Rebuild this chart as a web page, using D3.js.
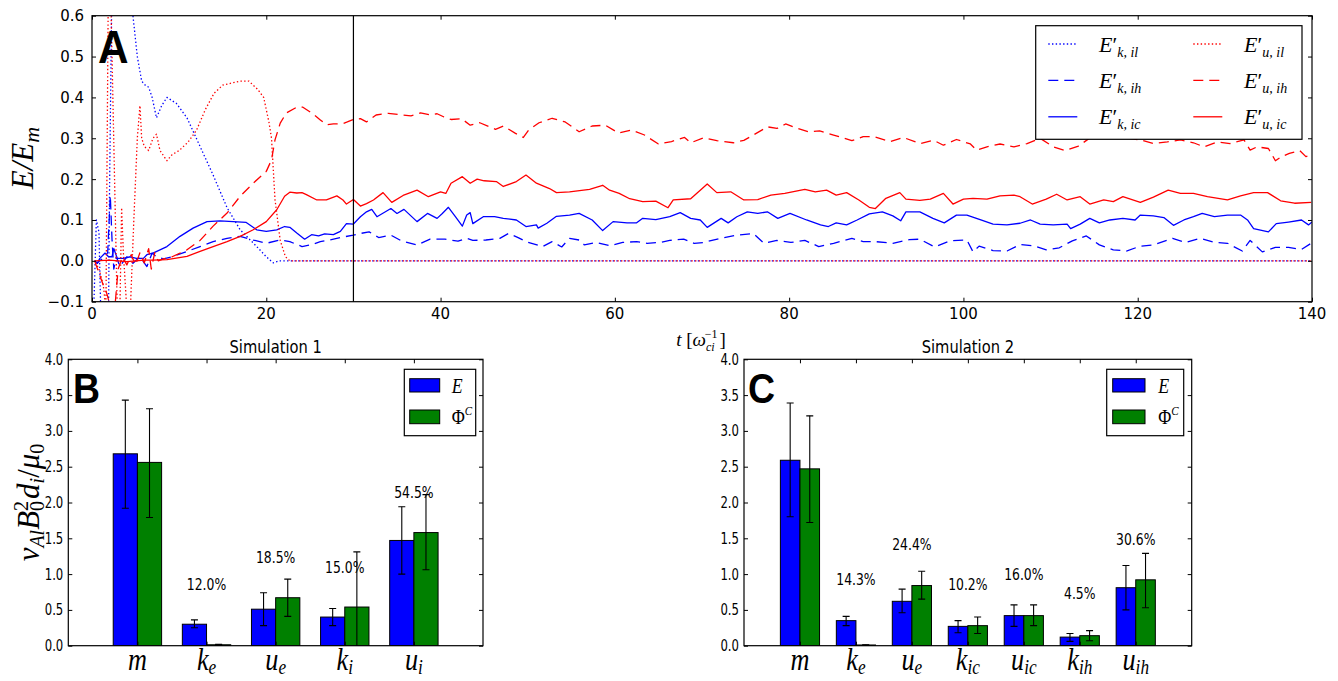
<!DOCTYPE html>
<html><head><meta charset="utf-8">
<script src="https://cdn.jsdelivr.net/npm/d3@7"></script>
<style>body{margin:0;background:#fff}svg{display:block}</style>
</head><body>
<svg id="c" width="1338" height="681"></svg>
<script>
// ---------------- DATA ----------------
// Panel A : time series [t, E/E_m]
const kIl = [[0.2,-0.12],[0.5,0.1],[0.8,0.07],[1.0,-0.12],[1.9,-0.12],[2.0,0.15],[2.3,0.7],[4.0,0.9],[4.7,0.6],[5.2,0.5],[5.7,0.44],[6.1,0.43],[6.5,0.425],[6.9,0.40],[7.4,0.35],[8.0,0.38],[8.6,0.40],[9.7,0.385],[10.9,0.35],[12.4,0.28],[13.9,0.21],[15.5,0.13],[17,0.076],[18.9,0.035],[20,0.01],[20.8,-0.005],[21.5,0],[140,0]];
const kIh = [[0.3,0.0],[0.6,-0.006],[0.9,0.0],[1.5,0.01],[1.8,0.02],[2.1,0.16],[2.3,0.05],[2.5,-0.02],[2.8,0.01],[3.2,-0.014],[4.0,0.01],[4.7,-0.006],[5.5,0.01],[6.3,-0.014],[6.9,0.019],[7.4,0.01],[8.2,0.005],[9.2,0.01],[10.9,0.023],[12.4,0.035],[13.9,0.047],[15.5,0.055],[17,0.06],[18.5,0.051],[20,0.043],[21.6,0.051],[22.7,0.047],[24.1,0.035],[25.1,0.039],[26.2,0.047],[27.3,0.051],[28.5,0.057],[30,0.063],[30.8,0.067],[31.8,0.071],[32.9,0.057],[34.3,0.063],[35.5,0.049],[37.3,0.039],[38.8,0.053],[40.5,0.053],[42,0.048],[43,0.055],[43.7,0.05],[45.2,0.051],[46.8,0.055],[47.8,0.067],[48.9,0.057],[49.8,0.047],[51.7,0.035],[52.8,0.047],[53.9,0.034],[54.8,0.055],[55.9,0.051],[56.5,0.039],[57.8,0.045],[59.4,0.037],[60.9,0.045],[62.5,0.047],[63.7,0.043],[65.2,0.045],[66.3,0.05],[67.9,0.053],[69.1,0.043],[70.2,0.045],[72.1,0.055],[74,0.063],[75.9,0.067],[77.1,0.043],[78.6,0.05],[80.2,0.045],[81.8,0.05],[83.4,0.035],[84.5,0.04],[85.1,0.043],[87.2,0.055],[88.5,0.047],[89.9,0.047],[91.9,0.043],[93.8,0.052],[95,0.053],[96.7,0.034],[98.5,0.049],[100.4,0.051],[101.1,0.022],[101.8,0.036],[103.4,0.025],[105,0.024],[106.5,0.04],[108,0.037],[109.5,0.027],[111,0.032],[112.5,0.049],[114.1,0.061],[115.6,0.039],[117.2,0.027],[118.7,0.024],[120.3,0.036],[121.8,0.039],[124,0.055],[125.5,0.045],[127.2,0.055],[128.8,0.045],[130.3,0.043],[132,0.024],[132.9,0.05],[134.3,0.022],[135.8,0.033],[137.3,0.033],[138.8,0.028],[139.9,0.043]];
const kIc = [[0.3,0.0],[0.6,-0.006],[0.9,0.006],[1.5,0.019],[1.9,0.01],[2.3,0.01],[2.5,0.03],[2.9,0.006],[3.6,0.006],[4.4,0.01],[5.1,0.006],[5.9,0.006],[6.3,0.015],[7,0.019],[8.6,0.035],[10.1,0.06],[11.6,0.08],[13.2,0.096],[14.7,0.098],[16.2,0.096],[17.7,0.094],[18.9,0.076],[20,0.072],[21.2,0.076],[22.1,0.084],[22.7,0.082],[23.5,0.068],[24.4,0.053],[25.2,0.064],[26,0.061],[26.7,0.066],[27.7,0.064],[28.5,0.072],[29.2,0.091],[30,0.09],[30.8,0.108],[31.5,0.12],[32.1,0.126],[32.7,0.108],[34.3,0.128],[35,0.116],[35.8,0.126],[37.3,0.096],[38.5,0.116],[39.6,0.104],[40.2,0.116],[40.9,0.131],[41.7,0.108],[42.5,0.085],[43,0.112],[43.4,0.118],[43.7,0.091],[44.9,0.108],[46.2,0.108],[47.2,0.104],[48.7,0.1],[49.8,0.084],[51,0.088],[51.2,0.08],[52.2,0.092],[53.3,0.109],[54.8,0.112],[55.9,0.116],[57.4,0.1],[58.6,0.074],[59.8,0.096],[61.4,0.093],[62.5,0.093],[63.2,0.104],[64.7,0.101],[66.3,0.108],[67.5,0.118],[68.7,0.104],[69.8,0.1],[70.6,0.082],[72.2,0.104],[73,0.093],[74,0.108],[75.2,0.12],[76.4,0.116],[77.5,0.12],[78.7,0.104],[80.1,0.116],[82,0.1],[83.6,0.088],[84.5,0.084],[85.4,0.093],[86.6,0.088],[87.8,0.1],[89.2,0.115],[90.7,0.12],[91.9,0.11],[92.8,0.098],[93.4,0.12],[95,0.12],[96.5,0.104],[97.8,0.093],[99.2,0.112],[100.4,0.112],[102,0.1],[103.4,0.09],[105,0.088],[106.5,0.092],[107.7,0.1],[108.8,0.09],[110.3,0.088],[111.9,0.09],[112.3,0.079],[113.4,0.09],[114.5,0.104],[115.6,0.093],[116.8,0.1],[118.3,0.104],[119.7,0.1],[120.3,0.112],[121.8,0.11],[123,0.106],[124.1,0.087],[125.3,0.1],[126.4,0.108],[127.4,0.116],[128.8,0.108],[130.3,0.112],[131.8,0.112],[132.6,0.1],[133.3,0.079],[135,0.071],[135.9,0.091],[137.3,0.095],[138.8,0.1],[139.6,0.088],[140,0.095]];
const uIl = [[0.3,0.0],[0.8,-0.02],[1.3,-0.06],[1.6,-0.12],[1.9,0.75],[2.2,0.6],[2.9,-0.12],[3.2,-0.12],[3.4,0.13],[3.6,0.02],[4.0,-0.12],[4.4,-0.12],[4.8,0.1],[5.2,0.3],[5.5,0.38],[5.7,0.3],[6.0,0.28],[6.5,0.27],[7.0,0.3],[7.4,0.31],[7.8,0.27],[8.6,0.245],[9.2,0.26],[10,0.27],[11,0.29],[12,0.32],[13,0.37],[14,0.41],[15,0.43],[16,0.435],[17,0.44],[18,0.44],[19,0.42],[19.7,0.40],[20.3,0.34],[20.6,0.3],[21,0.15],[21.6,0.05],[22.2,0.01],[22.7,0],[140,0]];
const uIh = [[0.3,0.0],[0.8,-0.03],[1.3,-0.06],[1.7,-0.08],[2.2,-0.12],[2.6,-0.12],[3.0,-0.02],[3.5,0.01],[4.0,-0.01],[4.5,0.015],[5.0,-0.01],[5.5,0.02],[6.0,-0.005],[6.5,0.03],[6.8,-0.02],[7.2,0.02],[7.6,0.0],[8.2,0.005],[9.2,0.01],[10.9,0.027],[12.4,0.05],[13.9,0.085],[15.5,0.117],[17,0.158],[18.5,0.19],[20,0.219],[20.6,0.247],[21,0.296],[21.6,0.337],[22.3,0.362],[23.5,0.376],[24.2,0.376],[25.2,0.362],[26.2,0.345],[26.9,0.333],[27.7,0.335],[28.8,0.336],[29.3,0.34],[30,0.346],[30.8,0.348],[31.5,0.34],[32.6,0.357],[34,0.361],[35.7,0.357],[36.6,0.355],[37.7,0.362],[38.8,0.357],[39.6,0.36],[40.4,0.352],[41.2,0.346],[42.4,0.348],[43.4,0.332],[44.5,0.338],[46.3,0.322],[47.2,0.33],[48.6,0.312],[49.5,0.302],[50.1,0.32],[51.3,0.338],[52.8,0.349],[54.3,0.34],[55.9,0.316],[57.4,0.33],[58.9,0.332],[60.4,0.313],[61.9,0.32],[63.4,0.308],[65,0.286],[66.5,0.292],[68,0.302],[68.7,0.289],[70.2,0.301],[71.7,0.294],[73.6,0.289],[74.8,0.295],[75.9,0.308],[77.5,0.328],[78.6,0.324],[79.6,0.335],[81,0.324],[82.2,0.316],[83.5,0.318],[85.1,0.308],[87.2,0.294],[88.5,0.304],[89.7,0.304],[91.6,0.292],[93.1,0.302],[95,0.287],[96.6,0.295],[97.7,0.283],[99.2,0.297],[100.8,0.286],[101.5,0.271],[102.7,0.279],[104.2,0.286],[105.8,0.279],[107.3,0.287],[108.8,0.3],[110.3,0.279],[111.7,0.27],[113.2,0.281],[114.2,0.296],[115.3,0.312],[117.2,0.316],[119,0.3],[120.3,0.296],[121.8,0.287],[123.4,0.291],[124.9,0.296],[126.4,0.289],[127.6,0.279],[129.1,0.291],[130.6,0.287],[132.2,0.296],[132.9,0.271],[133.7,0.279],[135,0.275],[135.8,0.245],[136.5,0.255],[137.4,0.263],[138.6,0.27],[139.3,0.255],[140,0.26]];
const uIc = [[0.3,0.0],[2,0.002],[4,-0.002],[6,0.002],[7,0.002],[8.6,0.003],[10.9,0.011],[12.4,0.023],[13.9,0.035],[15.5,0.047],[17,0.06],[18.5,0.076],[20,0.096],[21.2,0.125],[22.1,0.158],[22.7,0.168],[23.5,0.166],[24.1,0.167],[24.6,0.162],[25.8,0.149],[26.9,0.149],[28.1,0.159],[28.8,0.149],[29.2,0.139],[30,0.15],[30.8,0.134],[31.5,0.14],[32.3,0.149],[33.4,0.167],[34.4,0.143],[35.7,0.16],[37.3,0.173],[38.6,0.157],[40,0.169],[40.6,0.165],[41.2,0.19],[42.5,0.206],[43.4,0.19],[44.2,0.2],[45,0.196],[46.4,0.194],[47.2,0.182],[48.7,0.194],[49.8,0.21],[51,0.19],[52.5,0.177],[53.3,0.167],[54.8,0.169],[57.1,0.175],[58.6,0.185],[59.4,0.173],[60.5,0.165],[61.7,0.152],[63.2,0.145],[64.7,0.146],[66.1,0.13],[66.7,0.149],[68.7,0.152],[69.8,0.173],[70.6,0.188],[71.7,0.167],[73.3,0.169],[74.8,0.149],[76.4,0.15],[77.9,0.161],[79.5,0.165],[81.8,0.175],[83,0.169],[84.3,0.173],[85.4,0.161],[86.6,0.167],[88,0.149],[89.2,0.131],[89.9,0.128],[91.1,0.153],[92.7,0.167],[93.4,0.151],[95,0.148],[96.2,0.151],[97.7,0.165],[98.8,0.139],[100,0.151],[101.1,0.153],[102.7,0.151],[104.2,0.159],[105.8,0.161],[106.5,0.157],[107.9,0.139],[109.5,0.151],[110.7,0.163],[111.9,0.149],[113.4,0.157],[114.5,0.139],[116.1,0.149],[117.2,0.145],[118.3,0.157],[120.3,0.143],[121.8,0.156],[123.5,0.173],[124.9,0.165],[126.4,0.165],[128,0.157],[130.3,0.149],[131.8,0.159],[133.3,0.167],[134.9,0.167],[136.4,0.147],[138,0.141],[139.9,0.143]];
const tMarker = 30;
const xTicksA = [0,20,40,60,80,100,120,140];
const yTicksA = [-0.1,0,0.1,0.2,0.3,0.4,0.5,0.6];

// Panel B : Simulation 1
const catBase1 = ["m","k","u","k","u"];
const catSub1  = ["","e","e","i","i"];
const E1   = [2.68,0.30,0.51,0.40,1.47];
const E1lo = [1.92,0.25,0.28,0.28,1.00];
const E1hi = [3.43,0.36,0.74,0.52,1.94];
const P1   = [2.56,0.013,0.67,0.54,1.58];
const P1lo = [1.79,0.008,0.41,-0.23,1.06];
const P1hi = [3.31,0.018,0.93,1.31,2.11];
const pct1  = ["","12.0%","18.5%","15.0%","54.5%"];
const pctY1 = [null,0.86,1.23,1.09,2.14];

// Panel C : Simulation 2
const catBase2 = ["m","k","u","k","u","k","u"];
const catSub2  = ["","e","e","ic","ic","ih","ih"];
const E2   = [2.59,0.35,0.62,0.27,0.42,0.12,0.81];
const E2lo = [1.80,0.28,0.46,0.18,0.27,0.06,0.50];
const E2hi = [3.39,0.41,0.79,0.35,0.57,0.17,1.12];
const P2   = [2.47,0.01,0.84,0.28,0.42,0.14,0.92];
const P2lo = [1.72,0.006,0.65,0.17,0.28,0.07,0.53];
const P2hi = [3.21,0.014,1.04,0.40,0.57,0.21,1.29];
const pct2  = ["","14.3%","24.4%","10.2%","16.0%","4.5%","30.6%"];
const pctY2 = [null,0.92,1.42,0.86,0.99,0.73,1.49];
const yTicksBar = [0,0.5,1,1.5,2,2.5,3,3.5,4];

// ---------------- DRAWING ----------------
const svg = d3.select("#c");
const SANS = "DejaVu Sans", SERIF = "Liberation Serif", BOLD = "Liberation Sans";
const BLUE = "#0000ff", RED = "#ff0000", GREEN = "#008000";
const fmt = v => d3.format(".1f")(v).replace("-", "\u2212");

function rich(g, x, y, parts, o = {}) {
  let tr = `translate(${x},${y})`;
  if (o.rot) tr += ` rotate(${o.rot})`;
  if (o.sx) tr += ` scale(${o.sx},1)`;
  const t = g.append("text").attr("transform", tr)
    .attr("font-family", o.ff || SERIF).attr("font-size", o.fs || 16)
    .attr("text-anchor", o.anchor || "start").attr("fill", "#000");
  if (o.bold) t.attr("font-weight", "bold");
  let cur = 0;
  parts.forEach(p => {
    if (typeof p === "string") p = {t: p};
    const off = p.dy || 0;
    const ts = t.append("tspan").text(p.t).attr("dy", off - cur);
    cur = off;
    if (p.i) ts.attr("font-style", "italic");
    if (p.fs) ts.attr("font-size", p.fs);
    if (p.ff) ts.attr("font-family", p.ff);
    if (p.dx) ts.attr("dx", p.dx);
  });
  return t;
}

function frameTicks(g, x, y, xt, yt) {
  const [x0, x1] = x.range(), [y0, y1] = y.range();
  const st = s => s.call(a => a.select(".domain").remove())
    .call(a => a.selectAll("line").attr("stroke", "#000").attr("stroke-width", 1));
  st(g.append("g").attr("transform", `translate(0,${y0})`).call(d3.axisBottom(x).tickValues(xt).tickSize(-4).tickFormat("")));
  st(g.append("g").attr("transform", `translate(0,${y1})`).call(d3.axisTop(x).tickValues(xt).tickSize(-4).tickFormat("")));
  st(g.append("g").attr("transform", `translate(${x0},0)`).call(d3.axisLeft(y).tickValues(yt).tickSize(-4).tickFormat("")));
  st(g.append("g").attr("transform", `translate(${x1},0)`).call(d3.axisRight(y).tickValues(yt).tickSize(-4).tickFormat("")));
  g.append("rect").attr("x", x0).attr("y", y1).attr("width", x1 - x0).attr("height", y0 - y1)
    .attr("fill", "none").attr("stroke", "#000").attr("stroke-width", 1.2);
}

// ---- Panel A ----
const xA = d3.scaleLinear().domain([0, 140]).range([92, 1312]);
const yA = d3.scaleLinear().domain([-0.1, 0.6]).range([301.7, 15.7]);
const gA = svg.append("g");
svg.append("clipPath").attr("id", "clipA").append("rect")
  .attr("x", 92).attr("y", 15.7).attr("width", 1220).attr("height", 286);
const line = d3.line().x(d => xA(d[0])).y(d => yA(d[1]));
const seriesA = [
  {d: kIl, c: BLUE, dash: "1.4,2.3", lab: ["k, il"]},
  {d: kIh, c: BLUE, dash: "10,6", lab: ["k, ih"]},
  {d: kIc, c: BLUE, dash: null, lab: ["k, ic"]},
  {d: uIl, c: RED, dash: "1.4,2.3", off: 1.8, lab: ["u, il"]},
  {d: uIh, c: RED, dash: "10,6", lab: ["u, ih"]},
  {d: uIc, c: RED, dash: null, lab: ["u, ic"]}
];
const plotA = gA.append("g").attr("clip-path", "url(#clipA)");
seriesA.forEach(s => {
  plotA.append("path").attr("d", line(s.d)).attr("fill", "none").attr("stroke", s.c)
    .attr("stroke-width", 1.3).attr("stroke-dasharray", s.dash).attr("stroke-dashoffset", s.off || 0)
    .attr("stroke-linejoin", "round");
});
gA.append("line").attr("x1", xA(tMarker)).attr("x2", xA(tMarker)).attr("y1", yA(0.6)).attr("y2", yA(-0.1))
  .attr("stroke", "#000").attr("stroke-width", 1.2);
frameTicks(gA, xA, yA, xTicksA, yTicksA);
xTicksA.forEach(t => rich(gA, xA(t), 319, [String(t)], {ff: SANS, fs: 15, anchor: "middle"}));
yTicksA.forEach(v => rich(gA, 84, yA(v) + 5.5, [fmt(v)], {ff: SANS, fs: 15, anchor: "end"}));
rich(gA, 33, 158, [{t: "E/E", i: 1}, {t: "m", i: 1, fs: 22, dy: 6}], {rot: -90, fs: 31, anchor: "middle"});
rich(gA, 701, 346, [{t: "t", i: 1}, {t: " ["}, {t: "\u03c9", i: 1}, {t: "ci", i: 1, fs: 12, dy: 5}, {t: "\u22121", fs: 12, dy: -8, dx: -10}, {t: "]", dy: 0, dx: 2}], {fs: 19, anchor: "middle"});
rich(gA, 98, 63, ["A"], {ff: BOLD, fs: 46, bold: 1, sx: 0.92});
// legend A
const lg = gA.append("g");
lg.append("rect").attr("x", 1035.7).attr("y", 25.7).attr("width", 266.3).attr("height", 113.6)
  .attr("fill", "#fff").attr("stroke", "#000").attr("stroke-width", 1.2);
seriesA.forEach((s, i) => {
  const col = Math.floor(i / 3), row = i % 3;
  const lx = col ? 1193.3 : 1048.3, ly = 44 + row * 36.4, tx = col ? 1244 : 1099;
  lg.append("line").attr("x1", lx).attr("x2", lx + 29).attr("y1", ly).attr("y2", ly)
    .attr("stroke", s.c).attr("stroke-width", 1.3).attr("stroke-dasharray", s.dash);
  rich(lg, tx, ly + 7.5, [{t: "E", i: 1}, {t: "\u2032"}, {t: s.lab[0], i: 1, fs: 14, dy: 5}], {fs: 22});
});

// ---- Bar panels ----
function barPanel(cfg) {
  const g = svg.append("g");
  const n = cfg.base.length;
  const x = d3.scaleLinear().domain([-0.65, n + 0.35]).range(cfg.xr);
  const y = d3.scaleLinear().domain([0, 4]).range([645.7, 359.3]);
  const id = "clip" + cfg.id;
  svg.append("clipPath").attr("id", id).append("rect")
    .attr("x", cfg.xr[0]).attr("y", 359.3).attr("width", cfg.xr[1] - cfg.xr[0]).attr("height", 286.4);
  const p = g.append("g").attr("clip-path", `url(#${id})`);
  const w = 0.35;
  const sets = [{v: cfg.E, lo: cfg.Elo, hi: cfg.Ehi, c: BLUE, o: 0}, {v: cfg.P, lo: cfg.Plo, hi: cfg.Phi, c: GREEN, o: w}];
  sets.forEach(s => {
    s.v.forEach((v, i) => {
      p.append("rect").attr("x", x(i + s.o)).attr("width", x(i + s.o + w) - x(i + s.o))
        .attr("y", y(v)).attr("height", y(0) - y(v))
        .attr("fill", s.c).attr("stroke", "#000").attr("stroke-width", 1);
    });
  });
  sets.forEach(s => {
    s.v.forEach((v, i) => {
      const cx = x(i + s.o + w / 2);
      p.append("line").attr("x1", cx).attr("x2", cx).attr("y1", y(s.lo[i])).attr("y2", y(s.hi[i]))
        .attr("stroke", "#000").attr("stroke-width", 1.1);
      [s.lo[i], s.hi[i]].forEach(e => p.append("line").attr("x1", cx - 3.5).attr("x2", cx + 3.5)
        .attr("y1", y(e)).attr("y2", y(e)).attr("stroke", "#000").attr("stroke-width", 1.1));
    });
  });
  const centers = d3.range(n).map(i => i + w);
  frameTicks(g, x, y, centers, yTicksBar);
  yTicksBar.forEach(v => rich(g, cfg.xr[0] - 5, y(v) + 5.5, [fmt(v)], {ff: SANS, fs: 15, anchor: "end", sx: 0.78}));
  cfg.base.forEach((b, i) => {
    const parts = [{t: b, i: 1}];
    if (cfg.sub[i]) parts.push({t: cfg.sub[i], i: 1, fs: 21, dy: 4});
    rich(g, x(i + w), 670, parts, {fs: 32, anchor: "middle", sx: 0.82});
  });
  cfg.pct.forEach((t, i) => { if (t) rich(g, x(i + w), y(cfg.pctY[i]) + 5.5, [t], {ff: SANS, fs: 15.5, anchor: "middle", sx: 0.8}); });
  const xm = (cfg.xr[0] + cfg.xr[1]) / 2;
  rich(g, xm, 352.5, [cfg.title], {ff: SANS, fs: 17.5, anchor: "middle", sx: 0.84});
  rich(g, cfg.lx, 402.7, [cfg.letter], {ff: BOLD, fs: 43, bold: 1, sx: 0.87});
  // legend
  const L = cfg.leg;
  g.append("rect").attr("x", L.x).attr("y", 369.3).attr("width", L.w).attr("height", 66.4)
    .attr("fill", "#fff").attr("stroke", "#000").attr("stroke-width", 1.2);
  g.append("rect").attr("x", L.px).attr("y", 378.7).attr("width", L.pw).attr("height", 13.3)
    .attr("fill", BLUE).attr("stroke", "#000").attr("stroke-width", 1);
  g.append("rect").attr("x", L.px).attr("y", 410).attr("width", L.pw).attr("height", 13.7)
    .attr("fill", GREEN).attr("stroke", "#000").attr("stroke-width", 1);
  rich(g, L.tx, 392.5, [{t: "E", i: 1}], {fs: 21, sx: 0.85});
  rich(g, L.tx, 424, [{t: "\u03a6"}, {t: "C", i: 1, fs: 13, dy: -9}], {fs: 21, sx: 0.85});
}

barPanel({id: "B", xr: [68.3, 483], base: catBase1, sub: catSub1, E: E1, Elo: E1lo, Ehi: E1hi, P: P1, Plo: P1lo, Phi: P1hi,
  pct: pct1, pctY: pctY1, title: "Simulation 1", letter: "B", lx: 73,
  leg: {x: 404.3, w: 71.4, px: 409.7, pw: 30, tx: 451.7}});
barPanel({id: "C", xr: [744, 1191.7], base: catBase2, sub: catSub2, E: E2, Elo: E2lo, Ehi: E2hi, P: P2, Plo: P2lo, Phi: P2hi,
  pct: pct2, pctY: pctY2, title: "Simulation 2", letter: "C", lx: 748,
  leg: {x: 1106.7, w: 77, px: 1112.7, pw: 32.3, tx: 1158.3}});

// bottom-left y label
rich(svg, 39, 502.5, [{t: "v", i: 1}, {t: "Al", i: 1, fs: 20, dy: 5}, {t: "B", i: 1, dy: 0}, {t: "0", fs: 20, dy: 5},
  {t: "2", fs: 20, dy: -11, dx: -10}, {t: "d", i: 1, dy: 0, dx: 2}, {t: "i", i: 1, fs: 20, dy: 5}, {t: "/", dy: 0},
  {t: "\u03bc", i: 1}, {t: "0", fs: 20, dy: 5}], {rot: -90, fs: 31, anchor: "middle"});
</script>
</body></html>
